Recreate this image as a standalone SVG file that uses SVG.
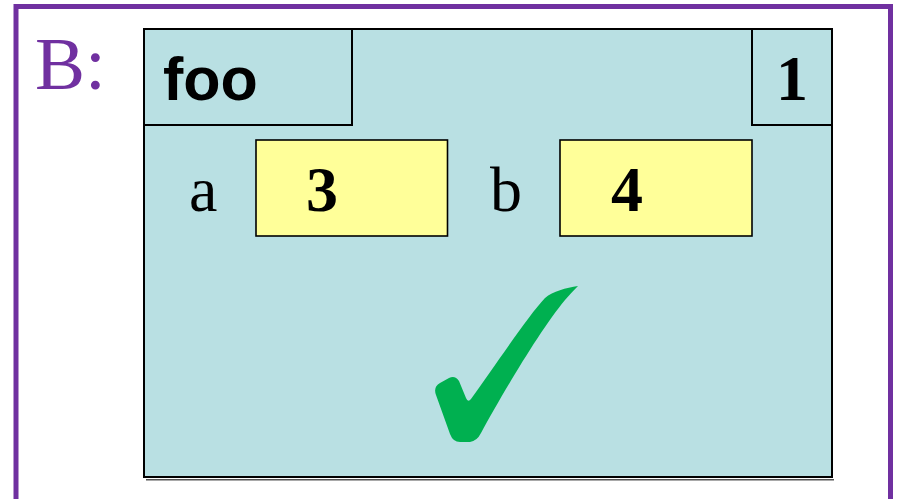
<svg xmlns="http://www.w3.org/2000/svg" width="898" height="499" viewBox="0 0 898 499">
  <style>
    .serif { font-family: "Liberation Serif", "Times New Roman", serif; }
    .box { fill: #B9E0E3; stroke: #000; stroke-width: 2; }
    .var { fill: #FFFF99; stroke: #000; stroke-width: 1.6; }
    .name { font-family: "Liberation Serif", serif; font-size: 64px; fill: #000; }
    .val { font-family: "Liberation Serif", serif; font-size: 64px; font-weight: bold; fill: #000; text-anchor: middle; }
  </style>

  <rect width="898" height="499" fill="#FFFFFF"/>

  <!-- outer purple panel -->
  <g id="panel">
    <rect x="16" y="6.5" width="874.5" height="520" fill="none" stroke="#7030A0" stroke-width="5"/>
    <text x="35" y="89" class="serif" font-size="75" fill="#7030A0">B:</text>
  </g>

  <!-- call frame for foo -->
  <g id="frame-foo">
    <rect x="146" y="479" width="688" height="1.5" fill="#555"/>
    <rect x="144" y="29" width="688" height="448" class="box"/>
  </g>

  <g id="frame-name">
    <rect x="144" y="29" width="208" height="96" class="box"/>
    <text x="163" y="100" font-family="'Liberation Sans', Arial, sans-serif" font-weight="bold" font-size="61" fill="#000">foo</text>
  </g>

  <g id="frame-counter">
    <rect x="752" y="29" width="80" height="96" class="box"/>
    <text x="792" y="100" class="val">1</text>
  </g>

  <!-- local variables -->
  <g id="var-a">
    <text x="189" y="211" class="name">a</text>
    <rect x="256" y="140" width="191.5" height="96" class="var"/>
    <text x="322" y="211" class="val">3</text>
  </g>

  <g id="var-b">
    <text x="490" y="211" class="name">b</text>
    <rect x="560" y="140" width="192" height="96" class="var"/>
    <text x="627" y="211" class="val">4</text>
  </g>

  <!-- green tick -->
  <g id="check">
    <path fill="#00B050" d="M578,286
      C566,288 553,291 545,298
      C528,316 492,370 471,399
      Q468,403 466,398
      L459,381
      Q455,375 449,378
      L440,383
      Q433,387 436,395
      L450,434
      Q453,442 460,442
      L470,442
      Q477,441 481,433
      C500,398 540,330 565,300
      Q572,292 578,286 Z"/>
  </g>

  <g id="connectors"/>
</svg>
